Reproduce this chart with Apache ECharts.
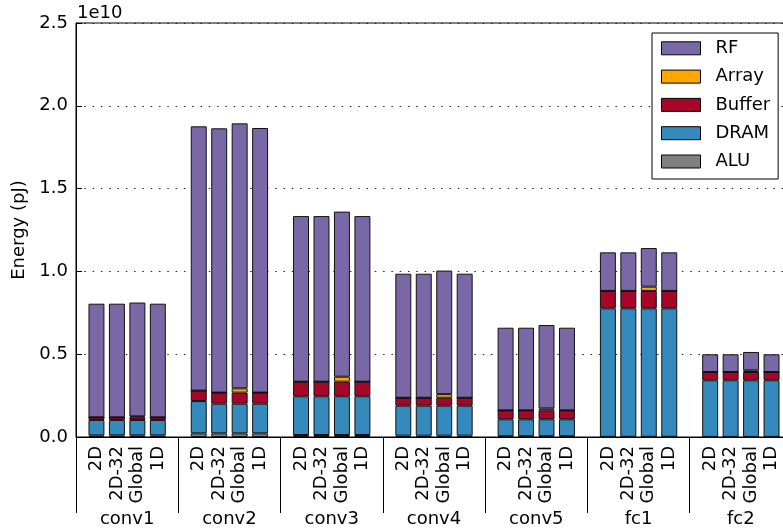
<!DOCTYPE html>
<html>
<head>
<meta charset="utf-8">
<script src="https://cdn.jsdelivr.net/npm/echarts@6/dist/echarts.min.js"></script>
<style>
  html, body { margin: 0; padding: 0; background: #fff; }
  #chart { width: 783px; height: 529px; }
</style>
</head>
<body>
<div id="chart"></div>
<script>
// Layers and dataflows along the x axis
const layers = ['conv1', 'conv2', 'conv3', 'conv4', 'conv5', 'fc1', 'fc2'];
const dataflows = ['2D', '2D-32', 'Global', '1D'];

// Energy per component, in units of 1e9 pJ; each row is one layer: [2D, 2D-32, Global, 1D]
const UNIT = 1e9;
const aluEnergy = [
  [0.10, 0.10, 0.10, 0.10],
  [0.22, 0.22, 0.22, 0.22],
  [0.12, 0.12, 0.12, 0.12],
  [0.08, 0.08, 0.08, 0.08],
  [0.05, 0.05, 0.05, 0.05],
  [0.01, 0.01, 0.01, 0.01],
  [0.005, 0.005, 0.005, 0.005]
];
const dramEnergy = [
  [0.93, 0.93, 0.93, 0.93],
  [1.95, 1.79, 1.79, 1.79],
  [2.34, 2.34, 2.34, 2.34],
  [1.81, 1.81, 1.81, 1.81],
  [1.02, 1.02, 1.02, 1.02],
  [7.76, 7.76, 7.76, 7.76],
  [3.42, 3.42, 3.42, 3.42]
];
const bufferEnergy = [
  [0.16, 0.16, 0.16, 0.16],
  [0.63, 0.67, 0.67, 0.67],
  [0.88, 0.88, 0.88, 0.88],
  [0.48, 0.48, 0.48, 0.48],
  [0.54, 0.54, 0.54, 0.54],
  [1.05, 1.05, 1.05, 1.05],
  [0.50, 0.50, 0.50, 0.50]
];
const arrayEnergy = [
  [0, 0, 0.06, 0],
  [0, 0, 0.26, 0],
  [0, 0, 0.30, 0],
  [0, 0, 0.22, 0],
  [0, 0, 0.12, 0],
  [0, 0, 0.26, 0],
  [0, 0, 0.10, 0]
];
const rfEnergy = [
  [6.86, 6.86, 6.87, 6.86],
  [15.96, 15.96, 16.00, 15.98],
  [10.00, 10.00, 9.97, 10.00],
  [7.49, 7.49, 7.46, 7.49],
  [4.99, 4.99, 5.03, 4.99],
  [2.33, 2.33, 2.33, 2.33],
  [1.07, 1.07, 1.11, 1.07]
];

// Y axis ticks (in 1e10 pJ)
const yTickValues = [0, 0.5, 1.0, 1.5, 2.0, 2.5];

// Category slots: an empty slot separates each group of four bars
const categories = [''];
layers.forEach(() => {
  dataflows.forEach(d => categories.push(d));
  categories.push('');
});

function slotData(rows) {
  const out = ['-'];
  rows.forEach(row => {
    row.forEach(v => out.push(v * UNIT));
    out.push('-');
  });
  return out;
}

const FONT = 'DejaVu Sans';
const components = [
  { name: 'ALU', color: '#808080', rows: aluEnergy },
  { name: 'DRAM', color: '#348ABD', rows: dramEnergy },
  { name: 'Buffer', color: '#A60628', rows: bufferEnergy },
  { name: 'Array', color: '#FFA500', rows: arrayEnergy },
  { name: 'RF', color: '#7A68A6', rows: rfEnergy }
];

const chart = echarts.init(document.getElementById('chart'), null, { renderer: 'canvas' });

chart.setOption({
  animation: false,
  textStyle: { fontFamily: FONT },
  grid: {
    left: 76, top: 23, right: -9, bottom: 92,
    containLabel: false,
    outerBoundsMode: 'none',
    show: true, borderColor: '#000', borderWidth: 1
  },
  legend: {
    orient: 'vertical',
    left: 652, top: 33,
    padding: [5.3, 8, 7.5, 9],
    itemGap: 8.3,
    itemWidth: 39, itemHeight: 13,
    icon: 'rect',
    borderColor: '#000', borderWidth: 1, borderRadius: 0,
    backgroundColor: '#fff',
    data: ['RF', 'Array', 'Buffer', 'DRAM', 'ALU'],
    itemStyle: { borderColor: '#000', borderWidth: 1 },
    textStyle: { fontFamily: FONT, fontSize: 18, color: '#000', lineHeight: 20, padding: [0, 0, 0, 10] }
  },
  graphic: [
    {
      type: 'text', left: 77, top: 4,
      style: { text: '1e10', font: '18px "DejaVu Sans"', fill: '#000' }
    }
  ],
  xAxis: [
    {
      type: 'category',
      position: 'bottom',
      data: categories,
      boundaryGap: false,
      axisLine: { show: true, lineStyle: { color: '#000', width: 1 } },
      axisTick: {
        show: true, inside: false, length: 76,
        interval: (idx) => idx % 5 === 0,
        lineStyle: { color: '#000', width: 1 }
      },
      axisLabel: {
        interval: 0, rotate: 90, margin: 9,
        fontFamily: FONT, fontSize: 18, color: '#000'
      },
      splitLine: { show: false }
    },
    {
      type: 'category',
      position: 'bottom',
      data: layers,
      boundaryGap: true,
      axisLine: { show: false },
      axisTick: { show: false },
      axisLabel: {
        interval: 0, margin: 73,
        fontFamily: FONT, fontSize: 18, color: '#000'
      },
      splitLine: { show: false }
    }
  ],
  yAxis: {
    type: 'value',
    min: yTickValues[0] * 1e10,
    max: yTickValues[yTickValues.length - 1] * 1e10,
    interval: 0.5e10,
    name: 'Energy (pJ)',
    nameLocation: 'middle',
    nameGap: 48,
    nameTextStyle: { fontFamily: FONT, fontSize: 18, color: '#000' },
    axisLine: { show: true, lineStyle: { color: '#000', width: 1 } },
    axisTick: { show: true, inside: true, length: 6, lineStyle: { color: '#000', width: 1 } },
    axisLabel: {
      margin: 8, fontFamily: FONT, fontSize: 18, color: '#000',
      formatter: (v) => (v / 1e10).toFixed(1)
    },
    splitLine: { show: true, lineStyle: { color: '#222', width: 1, type: [1.5, 6.8] } }
  },
  series: components.map(c => ({
    name: c.name,
    type: 'bar',
    stack: 'energy',
    xAxisIndex: 0,
    barWidth: '78%',
    itemStyle: { color: c.color, borderColor: '#111', borderWidth: 1 },
    emphasis: { disabled: true },
    data: slotData(c.rows)
  }))
});
</script>
</body>
</html>
